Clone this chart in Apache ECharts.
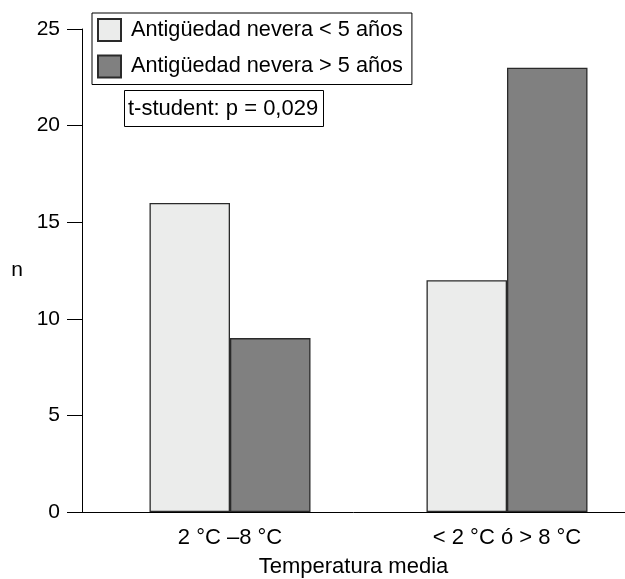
<!DOCTYPE html>
<html>
<head>
<meta charset="utf-8">
<script src="https://cdn.jsdelivr.net/npm/echarts@6/dist/echarts.min.js"></script>
<style>
html,body{margin:0;padding:0;background:#fff;}
#chart{width:625px;height:579px;}
</style>
</head>
<body>
<div id="chart"></div>
<script>
const categories = ['2 °C –8 °C', '< 2 °C ó > 8 °C'];
const categoryPositions = [1, 2];
const seriesNames = ['Antigüedad nevera < 5 años', 'Antigüedad nevera > 5 años'];
const valuesUnder5 = [16, 12];
const valuesOver5 = [9, 23];
const yTicks = [0, 5, 10, 15, 20, 25];
const annotationText = 't-student: p = 0,029';

const FONT = "'Liberation Sans', Arial, sans-serif";
const chart = echarts.init(document.getElementById('chart'), null, {renderer: 'canvas'});

const toPoints = vals => vals.map((v, i) => [categoryPositions[i], v]);

chart.setOption({
  animation: false,
  backgroundColor: '#ffffff',
  textStyle: {fontFamily: FONT, color: '#000'},
  title: {
    text: annotationText,
    left: 124, top: 90,
    padding: [8, 6, 7, 4],
    borderColor: '#000', borderWidth: 1,
    textStyle: {fontFamily: FONT, fontSize: 22, fontWeight: 'normal', color: '#000'}
  },
  legend: {
    orient: 'vertical',
    left: 92, top: 13,
    padding: [5, 9, 6, 5],
    borderColor: '#000', borderWidth: 1,
    itemWidth: 23, itemHeight: 22, itemGap: 12.5,
    icon: 'rect',
    textStyle: {fontFamily: FONT, fontSize: 21.7, color: '#000', padding: [0, 0, 0, 5]},
    data: seriesNames
  },
  grid: {left: 82, right: 0, top: 29, bottom: 67, containLabel: false, outerBoundsMode: 'none'},
  xAxis: {
    type: 'value',
    min: 0.4657, max: 2.426,
    name: 'Temperatura media',
    nameLocation: 'middle',
    nameGap: 44,
    nameTextStyle: {fontFamily: FONT, fontSize: 22, color: '#000'},
    axisLine: {show: true, lineStyle: {color: '#000', width: 1}},
    axisTick: {show: false},
    splitLine: {show: false},
    axisLabel: {
      customValues: categoryPositions,
      formatter: v => categories[categoryPositions.indexOf(v)] || '',
      fontFamily: FONT, fontSize: 22, color: '#000', margin: 15
    }
  },
  yAxis: {
    type: 'value',
    min: 0, max: 25, interval: 5,
    name: 'n',
    nameLocation: 'middle',
    nameRotate: 0,
    nameGap: 59,
    nameTextStyle: {fontFamily: FONT, fontSize: 21, color: '#000'},
    axisLine: {show: true, lineStyle: {color: '#000', width: 1}},
    axisTick: {show: true, length: 15, lineStyle: {color: '#000', width: 1}},
    splitLine: {show: false},
    axisLabel: {
      customValues: yTicks,
      fontFamily: FONT, fontSize: 21, color: '#000', margin: 22
    }
  },
  series: [
    {
      name: seriesNames[0], type: 'bar',
      data: toPoints(valuesUnder5),
      barWidth: 80.5, barGap: '0%',
      itemStyle: {color: '#ebeceb', borderColor: '#2a2a2a', borderWidth: 1.3}
    },
    {
      name: seriesNames[1], type: 'bar',
      data: toPoints(valuesOver5),
      barWidth: 80.5, barGap: '0%',
      itemStyle: {color: '#808080', borderColor: '#2a2a2a', borderWidth: 1.3}
    }
  ]
});
</script>
</body>
</html>
